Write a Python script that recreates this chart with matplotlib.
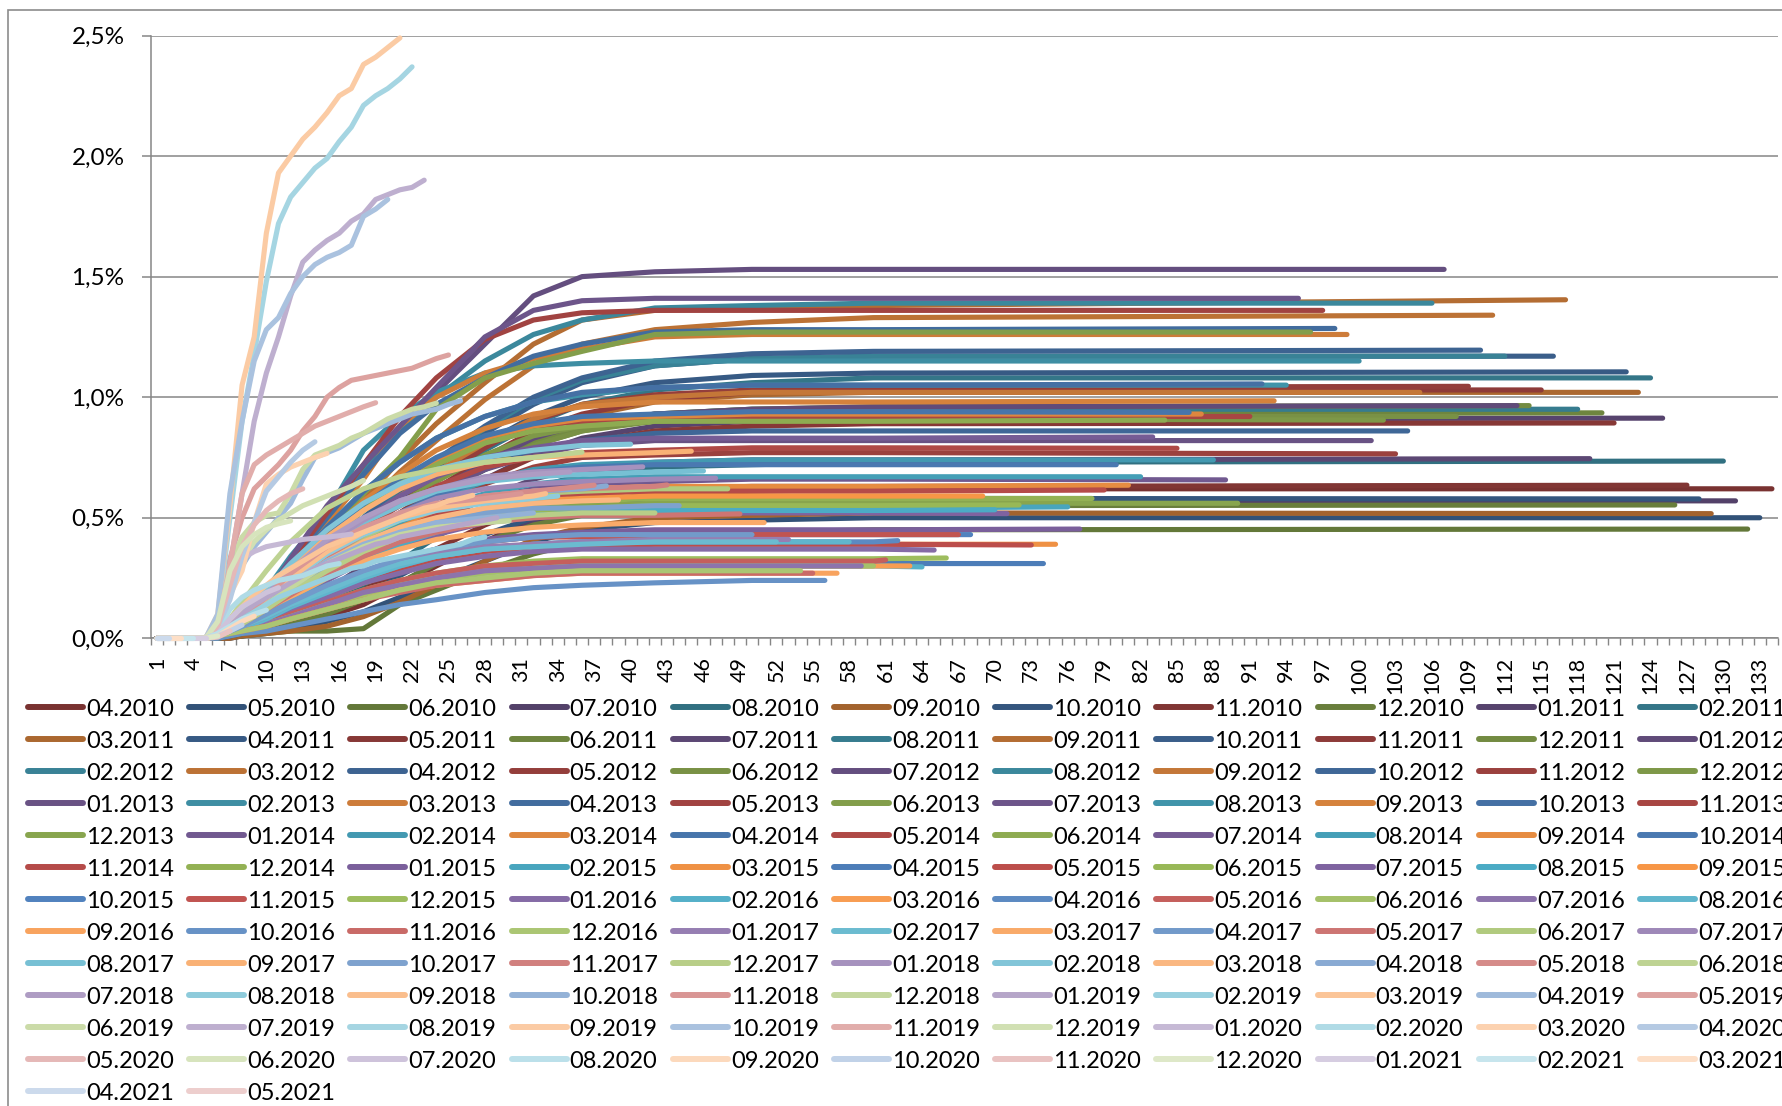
import matplotlib
matplotlib.use('Agg')
import matplotlib.pyplot as plt
from matplotlib.lines import Line2D
from matplotlib.patches import Rectangle
from matplotlib.colors import to_rgb
from matplotlib.ticker import FuncFormatter

plt.rcParams['font.family'] = ['Lato', 'DejaVu Sans']

# ---------------- data ----------------
VINTAGES = [
    '04.2010', '05.2010', '06.2010', '07.2010', '08.2010', '09.2010', '10.2010', '11.2010', '12.2010',
    '01.2011', '02.2011', '03.2011', '04.2011', '05.2011', '06.2011', '07.2011', '08.2011', '09.2011', '10.2011', '11.2011', '12.2011',
    '01.2012', '02.2012', '03.2012', '04.2012', '05.2012', '06.2012', '07.2012', '08.2012', '09.2012', '10.2012', '11.2012', '12.2012',
    '01.2013', '02.2013', '03.2013', '04.2013', '05.2013', '06.2013', '07.2013', '08.2013', '09.2013', '10.2013', '11.2013', '12.2013',
    '01.2014', '02.2014', '03.2014', '04.2014', '05.2014', '06.2014', '07.2014', '08.2014', '09.2014', '10.2014', '11.2014', '12.2014',
    '01.2015', '02.2015', '03.2015', '04.2015', '05.2015', '06.2015', '07.2015', '08.2015', '09.2015', '10.2015', '11.2015', '12.2015',
    '01.2016', '02.2016', '03.2016', '04.2016', '05.2016', '06.2016', '07.2016', '08.2016', '09.2016', '10.2016', '11.2016', '12.2016',
    '01.2017', '02.2017', '03.2017', '04.2017', '05.2017', '06.2017', '07.2017', '08.2017', '09.2017', '10.2017', '11.2017', '12.2017',
    '01.2018', '02.2018', '03.2018', '04.2018', '05.2018', '06.2018', '07.2018', '08.2018', '09.2018', '10.2018', '11.2018', '12.2018',
    '01.2019', '02.2019', '03.2019', '04.2019', '05.2019', '06.2019', '07.2019', '08.2019', '09.2019', '10.2019', '11.2019', '12.2019',
    '01.2020', '02.2020', '03.2020', '04.2020', '05.2020', '06.2020', '07.2020', '08.2020', '09.2020', '10.2020', '11.2020', '12.2020',
    '01.2021', '02.2021', '03.2021', '04.2021', '05.2021',
]

# months at which the 2010-2018 vintages are read; last value of each row = value at its last month
GRID = [1, 5, 6, 7, 8, 10, 12, 15, 18, 21, 24, 28, 32, 36, 42, 50, 60]

# values in hundredths of a percent
v2010 = [
    [0, 0, 0, 1, 1, 3, 5, 9, 14, 22, 30, 40, 50, 56, 60, 61, 62, 62],
    [0, 0, 0, 0, 1, 2, 4, 7, 11, 17, 24, 32, 40, 45, 48, 49, 50, 50],
    [0, 0, 0, 1, 1, 2, 3, 3, 4, 14, 20, 28, 35, 40, 43, 44, 45, 45.3],
    [0, 0, 0, 1, 2, 4, 7, 11, 16, 23, 31, 40, 48, 53, 56, 57, 57, 57],
    [0, 0, 0, 1, 2, 5, 9, 15, 22, 32, 42, 53, 62, 68, 71, 72, 73, 73.5],
    [0, 0, 0, 0, 1, 2, 3, 5, 9, 15, 22, 32, 41, 46, 50, 51, 52, 51.7],
    [0, 0, 0, 1, 2, 4, 7, 12, 18, 26, 34, 43, 50, 54, 57, 58, 58, 57.8],
    [0, 0, 0, 1, 2, 5, 8, 13, 20, 28, 37, 47, 55, 59, 62, 63, 63, 63.5],
    [0, 0, 0, 1, 2, 4, 6, 10, 16, 23, 31, 40, 47, 51, 54, 55, 55, 55.3],
]
v2011 = [
    [0, 0, 1, 2, 3, 7, 13, 24, 36, 48, 58, 66, 76, 83, 88, 90, 91, 91.3],
    [0, 0, 1, 2, 4, 9, 16, 29, 43, 56, 66, 78, 89, 97, 103, 106, 108, 108],
    [0, 0, 1, 2, 4, 8, 15, 27, 40, 52, 62, 74, 85, 92, 98, 101, 102, 102],
    [0, 0, 1, 2, 4, 9, 17, 30, 44, 57, 68, 81, 92, 100, 106, 109, 110, 110.5],
    [0, 0, 1, 2, 3, 7, 13, 24, 35, 45, 55, 66, 75, 81, 86, 88, 89, 89.3],
    [0, 0, 1, 2, 3, 8, 14, 26, 38, 49, 59, 70, 80, 86, 91, 93, 93, 93.5],
    [0, 0, 1, 1, 3, 6, 11, 20, 30, 40, 48, 58, 66, 71, 73, 74, 74, 74.5],
    [0, 0, 1, 2, 4, 9, 16, 28, 40, 51, 61, 72, 82, 88, 93, 95, 95, 95],
    [0, 0, 1, 2, 5, 12, 22, 39, 57, 74, 89, 106, 122, 132, 136, 137, 138, 140.4],
    [0, 0, 1, 2, 4, 10, 18, 32, 47, 60, 71, 85, 97, 106, 113, 116, 117, 117],
    [0, 0, 1, 2, 4, 9, 16, 28, 41, 52, 62, 75, 86, 93, 99, 102, 103, 103],
    [0, 0, 1, 2, 4, 9, 16, 28, 40, 50, 60, 72, 82, 88, 93, 95, 96, 96.5],
]
v2012 = [
    [0, 0, 1, 2, 4, 9, 17, 29, 41, 51, 61, 73, 83, 89, 93, 95, 96, 96.5],
    [0, 0, 1, 3, 5, 12, 21, 35, 50, 62, 73, 87, 99, 107, 113, 116, 117, 117],
    [0, 0, 1, 3, 5, 12, 22, 38, 54, 69, 82, 99, 113, 122, 128, 131, 133, 134],
    [0, 0, 1, 3, 5, 12, 21, 36, 50, 63, 74, 88, 100, 108, 115, 118, 119, 119.5],
    [0, 0, 1, 2, 5, 11, 19, 32, 45, 56, 66, 79, 90, 97, 101, 103, 104, 104.5],
    [0, 0, 1, 2, 4, 10, 17, 29, 41, 51, 60, 71, 80, 86, 90, 92, 92, 92],
    [0, 0, 2, 5, 10, 18, 33, 52, 68, 88, 102, 122, 142, 150, 152, 153, 153, 153],
    [0, 0, 2, 4, 8, 18, 32, 52, 70, 86, 100, 115, 126, 132, 137, 138, 139, 139],
    [0, 0, 1, 3, 5, 12, 21, 35, 48, 59, 69, 81, 91, 97, 100, 102, 102, 102],
    [0, 0, 1, 3, 5, 11, 19, 31, 42, 51, 60, 70, 78, 82, 85, 86, 86, 86],
    [0, 0, 1, 2, 4, 10, 17, 27, 37, 46, 54, 64, 71, 75, 76, 77, 77, 76.5],
    [0, 0, 1, 3, 5, 12, 21, 34, 46, 56, 65, 76, 84, 88, 90, 91, 91, 90.5],
]
v2013 = [
    [0, 0, 1, 3, 5, 11, 19, 31, 42, 51, 60, 70, 76, 80, 82, 82, 82, 82],
    [0, 0, 2, 5, 9, 20, 34, 52, 78, 92, 102, 110, 113, 114, 115, 115, 115, 115],
    [0, 0, 1, 4, 8, 17, 30, 48, 66, 88, 100, 110, 116, 120, 125, 126, 126, 126],
    [0, 0, 2, 4, 8, 18, 31, 50, 68, 85, 97, 108, 117, 122, 127, 128, 128, 128.5],
    [0, 0, 2, 4, 8, 18, 32, 52, 72, 92, 108, 124, 132, 135, 136, 136, 136, 136],
    [0, 0, 1, 3, 6, 14, 25, 42, 60, 75, 95, 108, 114, 119, 126, 127, 127, 127],
    [0, 0, 2, 4, 8, 18, 33, 55, 72, 88, 104, 125, 136, 140, 141, 141, 141, 141],
    [0, 0, 2, 4, 8, 17, 29, 46, 61, 73, 83, 92, 98, 101, 104, 105, 105, 105],
    [0, 0, 2, 4, 7, 16, 27, 43, 57, 68, 78, 87, 93, 96, 98, 98, 98, 98.5],
    [0, 0, 2, 4, 8, 17, 29, 46, 61, 73, 83, 92, 98, 102, 104, 105, 105, 105.5],
    [0, 0, 1, 4, 7, 15, 26, 41, 54, 65, 74, 83, 88, 90, 92, 92, 92, 92],
    [0, 0, 1, 2, 4, 9, 16, 25, 33, 40, 46, 51, 54, 55, 56, 56, 56, 56],
]
v2014 = [
    [0, 0, 1, 3, 6, 12, 19, 29, 38, 46, 52, 58, 62, 64, 65, 66, 66, 65.7],
    [0, 0, 1, 3, 6, 13, 21, 32, 42, 51, 58, 65, 70, 72, 73, 74, 74, 74],
    [0, 0, 2, 4, 7, 16, 27, 41, 54, 65, 74, 83, 88, 91, 92, 93, 93, 93],
    [0, 0, 2, 4, 8, 17, 28, 42, 55, 66, 75, 84, 89, 92, 93, 94, 94, 93.7],
    [0, 0, 1, 3, 6, 14, 23, 35, 46, 55, 63, 71, 75, 77, 78, 79, 79, 78.8],
    [0, 0, 2, 4, 7, 16, 27, 41, 53, 64, 72, 81, 86, 88, 90, 90, 90, 90.5],
    [0, 0, 1, 4, 7, 15, 25, 38, 49, 59, 67, 75, 79, 82, 83, 83, 83, 83.5],
    [0, 0, 1, 3, 6, 12, 20, 31, 40, 48, 54, 60, 64, 66, 67, 67, 67, 67],
    [0, 0, 1, 3, 5, 11, 19, 29, 38, 46, 52, 58, 61, 62, 63, 63, 63, 63.5],
    [0, 0, 1, 3, 6, 13, 22, 33, 43, 52, 59, 66, 69, 71, 72, 72, 72, 72],
    [0, 0, 1, 3, 5, 11, 18, 28, 37, 45, 51, 57, 59, 60, 61, 61, 61, 61.5],
    [0, 0, 1, 3, 5, 11, 18, 27, 35, 42, 48, 53, 56, 57, 58, 58, 58, 58],
]
v2015 = [
    [0, 0, 1, 2, 4, 8, 13, 20, 27, 33, 37, 41, 43, 44, 45, 45, 45, 45.3],
    [0, 0, 1, 3, 5, 10, 16, 25, 33, 40, 45, 50, 53, 54, 54, 54, 54, 54.5],
    [0, 0, 1, 2, 4, 7, 11, 17, 23, 28, 32, 36, 38, 39, 39, 39, 39, 39],
    [0, 0, 1, 2, 3, 5, 9, 14, 18, 22, 25, 28, 30, 31, 31, 31, 31, 31],
    [0, 0, 1, 2, 4, 7, 12, 18, 24, 29, 33, 36, 38, 38, 39, 39, 39, 38.7],
    [0, 0, 1, 3, 5, 10, 17, 26, 34, 41, 46, 51, 53, 54, 55, 55, 55, 55.3],
    [0, 0, 1, 3, 5, 10, 16, 24, 32, 38, 43, 48, 50, 51, 52, 52, 52, 51.7],
    [0, 0, 1, 3, 5, 10, 16, 25, 33, 39, 44, 49, 51, 52, 53, 53, 53, 53.3],
    [0, 0, 1, 3, 6, 11, 18, 28, 36, 44, 49, 54, 57, 58, 59, 59, 59, 59],
    [0, 0, 1, 2, 4, 8, 13, 20, 26, 32, 36, 40, 42, 43, 43, 43, 43, 43],
    [0, 0, 1, 2, 4, 8, 13, 20, 27, 32, 36, 40, 42, 42, 43, 43, 43, 43],
    [0, 0, 1, 2, 3, 6, 10, 15, 20, 24, 27, 30, 32, 33, 33, 33, 33, 33.3],
]
v2016 = [
    [0, 0, 1, 2, 3, 7, 11, 17, 23, 27, 31, 34, 36, 37, 37, 37, 37, 36.6],
    [0, 0, 1, 2, 3, 6, 9, 14, 18, 22, 25, 27, 29, 30, 30, 30, 30, 29.6],
    [0, 0, 1, 2, 3, 6, 9, 14, 19, 22, 25, 28, 29, 30, 30, 30, 30, 30],
    [0, 0, 1, 2, 4, 8, 13, 19, 25, 30, 34, 37, 39, 40, 40, 40, 40, 40.5],
    [0, 0, 1, 2, 3, 6, 10, 15, 20, 24, 27, 30, 31, 32, 32, 32, 32, 32.5],
    [0, 0, 1, 2, 3, 6, 9, 14, 18, 22, 25, 27, 29, 30, 30, 30, 30],
    [0, 0, 1, 2, 3, 6, 9, 14, 19, 22, 25, 28, 29, 30, 30, 30, 30],
    [0, 0, 1, 2, 4, 8, 13, 19, 25, 30, 34, 37, 39, 40, 40, 40, 40],
    [0, 0, 1, 2, 3, 5, 8, 12, 16, 20, 22, 24, 26, 27, 27, 27, 27],
    [0, 0, 0, 1, 2, 3, 5, 8, 11, 14, 16, 19, 21, 22, 23, 24, 24],
    [0, 0, 1, 2, 3, 5, 8, 12, 16, 19, 22, 24, 26, 27, 27, 27, 27],
    [0, 0, 1, 2, 3, 5, 8, 12, 16, 20, 23, 25, 27, 28, 28, 28, 28],
]
v2017 = [
    [0, 0, 1, 3, 5, 9, 14, 21, 27, 32, 35, 38, 39, 40, 41, 41, 41],
    [0, 0, 1, 3, 5, 9, 14, 20, 26, 31, 34, 37, 38, 39, 40, 40, 40],
    [0, 0, 1, 3, 6, 11, 17, 25, 32, 37, 41, 44, 46, 47, 48, 48, 48],
    [0, 0, 1, 3, 5, 10, 15, 22, 28, 33, 37, 40, 42, 43, 43, 43],
    [0, 0, 1, 3, 6, 12, 18, 27, 34, 40, 44, 48, 50, 51, 51, 51.6],
    [0, 0, 2, 4, 8, 15, 23, 33, 42, 49, 54, 58, 60, 61, 62, 62],
    [0, 0, 2, 4, 8, 16, 24, 35, 45, 52, 58, 62, 64, 65, 66, 66.4],
    [0, 0, 2, 5, 9, 17, 26, 38, 48, 55, 61, 65, 67, 68, 69, 69.4],
    [0, 0, 2, 5, 10, 19, 29, 42, 53, 62, 68, 73, 75, 76, 77, 77.6],
    [0, 0, 1, 3, 6, 13, 20, 30, 38, 44, 48, 52, 54, 54, 55, 55],
    [0, 0, 2, 4, 8, 15, 23, 34, 43, 50, 55, 59, 61, 62, 63, 63.6],
    [0, 0, 1, 3, 6, 12, 19, 28, 36, 42, 46, 49, 51, 52, 52],
]
v2018 = [
    [0, 0, 2, 5, 9, 17, 27, 39, 49, 57, 62, 67, 69, 70, 71.1],
    [0, 0, 2, 5, 10, 20, 31, 45, 56, 64, 70, 75, 78, 80, 80.5],
    [0, 0, 1, 4, 7, 14, 22, 32, 40, 46, 50, 54, 56, 57, 57.4],
    [0, 0, 2, 4, 8, 16, 25, 36, 45, 51, 55, 59, 61, 62, 63.2],
    [0, 0, 2, 4, 8, 16, 25, 36, 45, 51, 55, 59, 61, 63, 63.5],
    [0, 0, 3, 8, 15, 28, 40, 54, 62, 67, 70, 73, 75, 77.2],
    [0, 0, 2, 5, 9, 18, 28, 41, 50, 57, 62, 66, 68, 69],
    [0, 0, 2, 4, 8, 15, 24, 35, 43, 49, 53, 56, 58, 59],
    [0, 0, 2, 4, 8, 16, 25, 36, 44, 50, 54, 57, 59, 60],
    [0, 0, 2, 4, 7, 14, 22, 32, 39, 44, 48, 50, 52],
    [0, 0, 2, 5, 9, 17, 27, 38, 46, 52, 56, 58, 60],
    [0, 0, 2, 4, 7, 14, 21, 31, 38, 43, 46, 48, 48.7],
]
# 2019-2021: one value per month, starting at month 1
v2019 = [
    [0, 0, 0, 0, 0, 2, 6, 10, 14, 17, 20, 23, 26, 29, 31, 33, 35, 37, 39, 40, 42, 43, 44, 45, 46, 47, 48, 49, 50],
    [0, 0, 0, 0, 0, 2, 5, 8, 11, 14, 17, 19, 21, 23, 25, 27, 29, 30, 32, 33, 34, 35, 36, 37, 38, 39, 41, 42],
    [0, 0, 0, 0, 0, 3, 8, 13, 18, 22, 26, 29, 32, 35, 38, 40, 42, 44, 46, 48, 50, 52, 54, 55, 57, 58, 59.3],
    [0, 0, 0, 0, 0, 5, 18, 30, 38, 44, 50, 56, 66, 75, 77, 79, 82, 85, 87, 89, 91, 93, 94, 95, 97, 98.5],
    [0, 0, 0, 0, 0, 8, 33, 50, 62, 67, 72, 78, 86, 92, 100, 104, 107, 108, 109, 110, 111, 112, 114, 116, 117.5],
    [0, 0, 0, 0, 0, 8, 30, 42, 48, 51, 52, 60, 70, 76, 78, 80, 83, 85, 88, 91, 93, 95, 96, 97.5],
    [0, 0, 0, 0, 0, 5, 30, 60, 90, 110, 125, 142, 156, 161, 165, 168, 173, 176, 182, 184, 186, 187, 190],
    [0, 0, 0, 0, 0, 8, 50, 90, 118, 148, 172, 183, 189, 195, 199, 206, 212, 221, 225, 228, 232, 237],
    [0, 0, 0, 0, 0, 10, 55, 105, 125, 168, 193, 200, 207, 212, 218, 225, 228, 238, 241, 245, 249],
    [0, 0, 0, 0, 0, 10, 60, 90, 115, 128, 133, 143, 150, 155, 158, 160, 163, 175, 178, 182],
    [0, 0, 0, 0, 0, 5, 30, 60, 72, 76, 79, 82, 85, 88, 90, 92, 94, 96, 97.7],
    [0, 0, 0, 0, 0, 5, 20, 32, 40, 45, 49, 52, 55, 57, 59, 61, 63, 65.5],
]
v2020 = [
    [0, 0, 0, 0, 0, 5, 25, 33, 36, 38, 39, 40, 41, 41.5, 42, 42.5, 43.2],
    [0, 0, 0, 0, 0, 3, 12, 17, 20, 22, 24, 25, 26, 28, 30, 31],
    [0, 0, 0, 0, 0, 5, 18, 28, 48, 64, 68, 71, 73, 75, 76.7],
    [0, 0, 0, 0, 0, 5, 16, 34, 48, 61, 67, 73, 78, 81.5],
    [0, 0, 0, 0, 0, 5, 22, 38, 47, 53, 57, 60, 62],
    [0, 0, 0, 0, 0, 7, 28, 38, 43, 46, 47.5, 48.7],
    [0, 0, 0, 0, 0, 2, 8, 13, 16, 19, 21],
    [0, 0, 0, 0, 0, 2, 5, 8, 10, 11.7],
    [0, 0, 0, 0, 0, 1, 4, 7, 9.2],
    [0, 0, 0, 0, 0, 1, 3, 5.5],
    [0, 0, 0, 0, 0, 0.5, 3],
    [0, 0, 0, 0, 0, 1],
]
v2021 = [
    [0, 0, 0, 0, 0],
    [0, 0, 0, 0],
    [0, 0, 0],
    [0, 0],
    [0],
]

Y_TICKS = [0.0, 0.5, 1.0, 1.5, 2.0, 2.5]
X_TICK_LABELS = list(range(1, 135, 3))

grid_rows = v2010 + v2011 + v2012 + v2013 + v2014 + v2015 + v2016 + v2017 + v2018
monthly_rows = v2019 + v2020 + v2021

# ---------------- style ----------------
W, H = 1783, 1106
fig = plt.figure(figsize=(W / 100, H / 100), dpi=100)
AX_L, AX_R, AX_T, AX_B = 151, 1778, 35.5, 638.3
ax = fig.add_axes([AX_L / W, 1 - AX_B / H, (AX_R - AX_L) / W, (AX_B - AX_T) / H])

GREY = '#868686'
BASE = ['#4F81BD', '#C0504D', '#9BBB59', '#8064A2', '#4BACC6', '#F79646']
N = len(VINTAGES)


def colour(i):
    k = i % 6
    if i == 0:
        k = 1
    elif i == 1:
        k = 0
    r, g, b = to_rgb(BASE[k])
    if i < 65:
        f = 1 - 0.37 * (65 - i) / 65
        return (r * f, g * f, b * f)
    t = 0.72 * (i - 65) / 68
    return (r + (1 - r) * t, g + (1 - g) * t, b + (1 - b) * t)


for i, lab in enumerate(VINTAGES):
    L = N - i
    if i < len(grid_rows):
        row = grid_rows[i]
        xs = [g for g in GRID if g < L][:len(row) - 1] + [L]
        ys = [v / 100 for v in row[:len(xs) - 1]] + [row[-1] / 100]
    else:
        row = monthly_rows[i - len(grid_rows)]
        xs = list(range(1, len(row) + 1))
        ys = [v / 100 for v in row]
    ax.plot(xs, ys, color=colour(i), lw=3.7, solid_capstyle='round',
            solid_joinstyle='round', clip_on=False, zorder=3)

ax.set_xlim(0.5, 134.5)
ax.set_ylim(0, 2.5)
ax.set_yticks(Y_TICKS)
ax.yaxis.set_major_formatter(FuncFormatter(lambda v, p: f"{v:.1f}%".replace('.', ',')))
ax.grid(axis='y', color=GREY, lw=1.1)
ax.set_axisbelow(True)
ax.set_xticks(X_TICK_LABELS)
ax.set_xticklabels([str(v) for v in X_TICK_LABELS])
ax.set_xticks([k + 0.5 for k in range(0, 135)], minor=True)
ax.tick_params(axis='x', which='major', length=0, pad=13.5, labelsize=15.5, labelrotation=90)
ax.tick_params(axis='x', which='minor', length=5, width=1, color=GREY)
ax.tick_params(axis='y', which='major', length=6.5, width=1.1, color=GREY, pad=12.5, labelsize=17.5)
for s in ['top', 'right']:
    ax.spines[s].set_visible(False)
for s in ['left', 'bottom']:
    ax.spines[s].set_color(GREY)
    ax.spines[s].set_linewidth(1.1)
    ax.spines[s].set_zorder(1)

# legend (row-major, 11 columns, clipped on the right like the original)
NCOL = 11
for i, lab in enumerate(VINTAGES):
    r, c = divmod(i, NCOL)
    x0 = 28 + 161.2 * c
    y0 = 707 + 32.0 * r
    fig.add_artist(Line2D([x0 / W, (x0 + 55) / W], [1 - y0 / H, 1 - y0 / H],
                          color=colour(i), lw=4.3, solid_capstyle='round',
                          transform=fig.transFigure))
    fig.text((x0 + 58) / W, 1 - (y0 + 8.5) / H, lab, fontsize=17,
             va='baseline', ha='left')

# chart border (only the top and left edges are inside the picture)
fig.add_artist(Rectangle((8.5 / W, -0.5), 2.0, 1.5 - 10 / H, fill=False,
                         edgecolor='#8c8c8c', lw=1.2, transform=fig.transFigure))

fig.savefig('out.png', dpi=100)
